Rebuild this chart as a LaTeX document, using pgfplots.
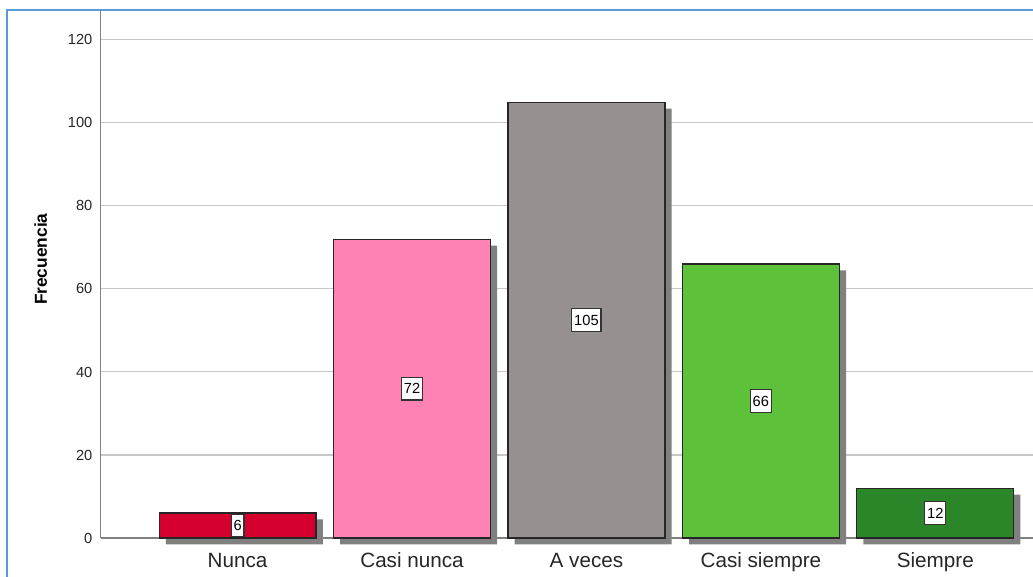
\documentclass[border=0pt]{standalone}
\usepackage{pgfplots}
\pgfplotsset{compat=1.18}
\usepackage{fontspec}
\setmainfont{Liberation Sans}
\definecolor{cNunca}{HTML}{D6002F}
\definecolor{cCasiNunca}{HTML}{FF82B4}
\definecolor{cAVeces}{HTML}{969190}
\definecolor{cCasiSiempre}{HTML}{5DC23A}
\definecolor{cSiempre}{HTML}{2B8629}
\definecolor{shadow}{HTML}{808080}
\definecolor{frame}{HTML}{5B9BD5}
\definecolor{gridc}{HTML}{C8C8C8}

\begin{document}
\begin{tikzpicture}
% 1 px = 0.75pt
\useasboundingbox (0,0) rectangle (774.75pt,432pt);
\draw[frame, line width=1.2pt] (5.25pt,-10pt) -- (5.25pt,424.5pt) -- (790pt,424.5pt);
\begin{axis}[
    at={(75.5pt,28.5pt)}, anchor=south west,
    scale only axis,
    width=699.25pt, height=396pt,
    xmin=-0.785, xmax=4.56,
    ymin=0, ymax=127.2,
    clip=false,
    axis lines*=left,
    axis line style={draw=black!50, line width=1pt},
    ymajorgrids,
    grid style={gridc, line width=0.8pt},
    major tick length=0pt,
    xtick={0,1,2,3,4},
    xticklabels={Nunca, Casi nunca, A veces, Casi siempre, Siempre},
    ytick={0,20,...,120},
    /pgf/number format/assume math mode=true,
    yticklabel style={font=\fontsize{11}{12}\selectfont, inner sep=0pt, xshift=-6pt, text=black!85},
    xticklabel style={font=\fontsize{15.5}{17}\selectfont, anchor=base, inner sep=0pt, yshift=-21.75pt, text=black!85},
    ylabel={Frecuencia},
    ylabel style={at={(axis description cs:-0.0643,0.528)}, anchor=center, font=\bfseries\fontsize{13}{15}\selectfont},
]
% shadows
\addplot[ybar, bar width=0.9, bar shift=0pt, fill=shadow, draw=none, xshift=5pt, yshift=-4.8pt]
    coordinates {(0,6) (1,72) (2,105) (3,66) (4,12)};
% bars
\addplot[ybar, bar width=0.9, bar shift=0pt, fill=cNunca, draw=black!85, line width=0.9pt] coordinates {(0,6)};
\addplot[ybar, bar width=0.9, bar shift=0pt, fill=cCasiNunca, draw=black!85, line width=0.9pt] coordinates {(1,72)};
\addplot[ybar, bar width=0.9, bar shift=0pt, fill=cAVeces, draw=black!85, line width=0.9pt] coordinates {(2,105)};
\addplot[ybar, bar width=0.9, bar shift=0pt, fill=cCasiSiempre, draw=black!85, line width=0.9pt] coordinates {(3,66)};
\addplot[ybar, bar width=0.9, bar shift=0pt, fill=cSiempre, draw=black!85, line width=0.9pt] coordinates {(4,12)};
% value labels at bar middle
\addplot[only marks, mark=none, nodes near coords, point meta=explicit symbolic,
    nodes near coords style={anchor=center, fill=white, draw=black!80, line width=0.9pt,
        inner xsep=1.8pt, inner ysep=4.5pt, text height=8pt, text depth=0pt,
        font=\fontsize{11}{12}\selectfont}]
    coordinates {(0,3)[6] (1,36)[72] (2,52.5)[105] (3,33)[66] (4,6)[12]};
\end{axis}
\end{tikzpicture}
\end{document}
